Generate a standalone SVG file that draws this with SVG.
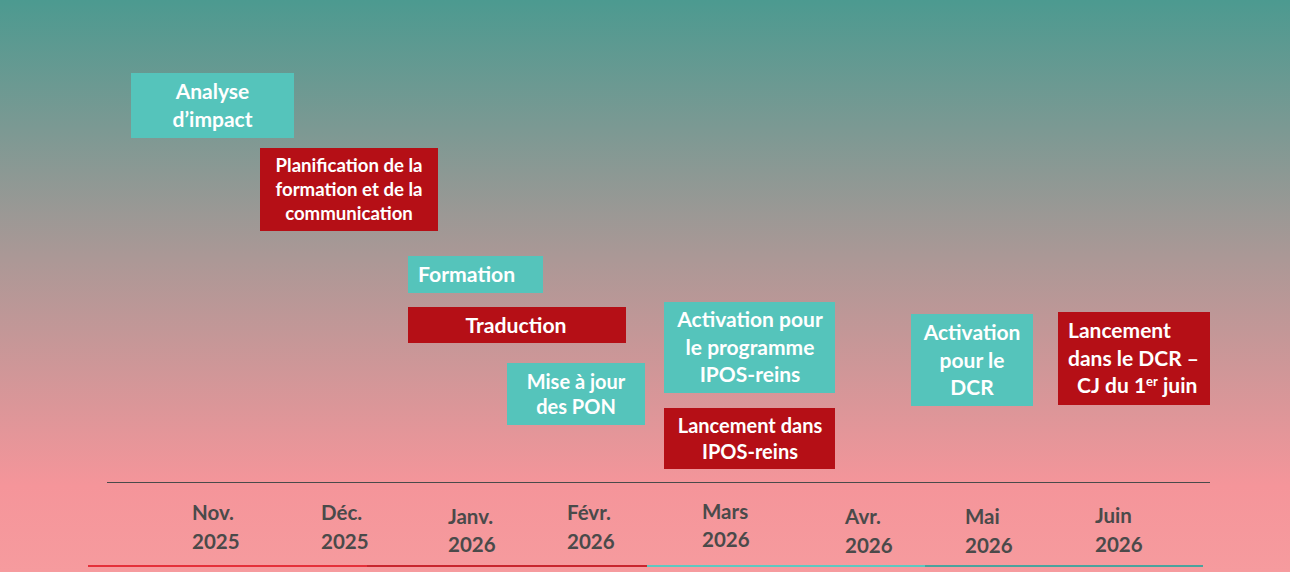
<svg xmlns="http://www.w3.org/2000/svg" width="1290" height="572" viewBox="0 0 1290 572">
<defs>
<linearGradient id="bg" x1="0" y1="0" x2="0" y2="572" gradientUnits="userSpaceOnUse">
<stop offset="0" stop-color="#4c9a90"/>
<stop offset="0.45" stop-color="#ab9896"/>
<stop offset="0.85" stop-color="#f5959a"/>
<stop offset="1" stop-color="#f69b9e"/>
</linearGradient>
<style>
.teal{fill:#55c4bb}
.red{fill:#b50f16}
.t{font-family:Lato,"Open Sans",sans-serif;font-weight:bold;fill:#fff}
.m{font-family:Lato,"Open Sans",sans-serif;font-weight:bold;fill:#4a4a4a;font-size:20.5px}
.c{text-anchor:middle}
</style>
</defs>
<rect width="1290" height="572" fill="url(#bg)"/>
<g id="axis">
<line x1="107" y1="482.5" x2="1210" y2="482.5" stroke="#4a4a4a" stroke-width="1.2"/>
<line x1="88" y1="566" x2="367" y2="566" stroke="#e5303a" stroke-width="2"/>
<line x1="367" y1="566" x2="647" y2="566" stroke="#c8262e" stroke-width="2"/>
<line x1="647" y1="566" x2="925" y2="566" stroke="#5ec8c0" stroke-width="2"/>
<line x1="925" y1="566" x2="1203" y2="566" stroke="#4aa39d" stroke-width="2"/>
</g>
<g id="months">
<text class="m" x="192" y="520">Nov.</text><text class="m" x="192" y="549">2025</text>
<text class="m" x="321" y="520">Déc.</text><text class="m" x="321" y="549">2025</text>
<text class="m" x="448" y="524">Janv.</text><text class="m" x="448" y="552">2026</text>
<text class="m" x="567" y="520">Févr.</text><text class="m" x="567" y="549">2026</text>
<text class="m" x="702" y="519">Mars</text><text class="m" x="702" y="547">2026</text>
<text class="m" x="845" y="524">Avr.</text><text class="m" x="845" y="553">2026</text>
<text class="m" x="965" y="524">Mai</text><text class="m" x="965" y="553">2026</text>
<text class="m" x="1095" y="523">Juin</text><text class="m" x="1095" y="552">2026</text>
</g>
<g id="analyse">
<rect class="teal" x="131" y="73" width="163" height="65"/>
<text class="t c" font-size="21" x="212.5" y="99">Analyse</text>
<text class="t c" font-size="21" x="212.5" y="127">d’impact</text>
</g>
<g id="planification">
<rect class="red" x="260" y="148" width="178" height="83"/>
<text class="t c" font-size="18.6" x="349" y="172">Planification de la</text>
<text class="t c" font-size="18.6" x="349" y="196">formation et de la</text>
<text class="t c" font-size="18.6" x="349" y="220">communication</text>
</g>
<g id="formation">
<rect class="teal" x="408" y="256" width="135" height="37"/>
<text class="t" font-size="21.2" x="418" y="282">Formation</text>
</g>
<g id="traduction">
<rect class="red" x="408" y="307" width="218" height="36"/>
<text class="t c" font-size="21.2" x="516" y="333">Traduction</text>
</g>
<g id="mise-a-jour">
<rect class="teal" x="507" y="363" width="138" height="62"/>
<text class="t c" font-size="20" x="576" y="389">Mise à jour</text>
<text class="t c" font-size="20" x="576" y="414">des PON</text>
</g>
<g id="activation-ipos">
<rect class="teal" x="664" y="302" width="171" height="91"/>
<text class="t c" font-size="21" x="750" y="327">Activation pour</text>
<text class="t c" font-size="21" x="750" y="355">le programme</text>
<text class="t c" font-size="21" x="750" y="382">IPOS-reins</text>
</g>
<g id="lancement-ipos">
<rect class="red" x="664" y="408" width="171" height="61"/>
<text class="t c" font-size="20" x="750" y="433">Lancement dans</text>
<text class="t c" font-size="20" x="750" y="459">IPOS-reins</text>
</g>
<g id="activation-dcr">
<rect class="teal" x="911" y="314" width="122" height="92"/>
<text class="t c" font-size="21" x="972" y="340">Activation</text>
<text class="t c" font-size="21" x="972" y="368">pour le</text>
<text class="t c" font-size="21" x="972" y="395">DCR</text>
</g>
<g id="lancement-dcr">
<rect class="red" x="1058" y="312" width="152" height="93"/>
<text class="t" font-size="21" x="1068" y="338">Lancement</text>
<text class="t" font-size="21" x="1068" y="366">dans le DCR –</text>
<text class="t" font-size="21" x="1077" y="393">CJ du 1<tspan font-size="13" dy="-7">er</tspan><tspan dy="7"> juin</tspan></text>
</g>
</svg>
